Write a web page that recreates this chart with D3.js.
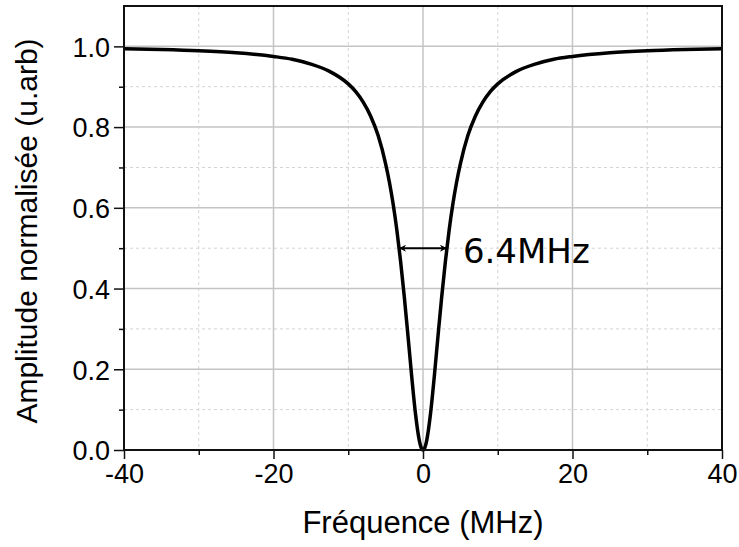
<!DOCTYPE html>
<html>
<head>
<meta charset="utf-8">
<script src="https://cdn.jsdelivr.net/npm/d3@7"></script>
<style>
  body { margin: 0; background: #fff; }
  svg { display: block; }
</style>
</head>
<body>
<div id="chart"></div>
<script>
// Frequency (MHz) and normalised amplitude
const freq = [-40, -35, -30, -25, -20, -17.5, -15, -12.5, -10, -9, -8, -7, -6, -5, -4.5, -4, -3.5, -3, -2.5, -2, -1.5, -1, -0.5, -0.25, 0,
              0.25, 0.5, 1, 1.5, 2, 2.5, 3, 3.5, 4, 4.5, 5, 6, 7, 8, 9, 10, 12.5, 15, 17.5, 20, 25, 30, 35, 40];
const amplitude = [0.994, 0.992, 0.989, 0.984, 0.975, 0.968, 0.956, 0.938, 0.907, 0.888, 0.862, 0.827, 0.779, 0.709, 0.664, 0.610, 0.545, 0.468, 0.379, 0.281, 0.180, 0.089, 0.024, 0.006, 0.000,
                   0.006, 0.024, 0.089, 0.180, 0.281, 0.379, 0.468, 0.545, 0.610, 0.664, 0.709, 0.779, 0.827, 0.862, 0.888, 0.907, 0.938, 0.956, 0.968, 0.975, 0.984, 0.989, 0.992, 0.994];
const xTicks = [-40, -20, 0, 20, 40];
const xTickLabels = ["-40", "-20", "0", "20", "40"];
const xMinorTicks = [-30, -10, 10, 30];
const yTicks = [0.0, 0.2, 0.4, 0.6, 0.8, 1.0];
const yTickLabels = ["0.0", "0.2", "0.4", "0.6", "0.8", "1.0"];
const yMinorTicks = [0.1, 0.3, 0.5, 0.7, 0.9];
const fwhmRange = [-3.2, 3.2];
const fwhmLevel = 0.5;
const fwhmLabel = "6.4MHz";
const xTitle = "Fréquence (MHz)";
const yTitle = "Amplitude normalisée (u.arb)";

const W = 739, H = 547;
const m = { left: 124, right: 17, top: 6, bottom: 97 };
const iw = W - m.left - m.right, ih = H - m.top - m.bottom;

const svg = d3.select("#chart").append("svg").attr("width", W).attr("height", H);
const g = svg.append("g").attr("transform", `translate(${m.left},${m.top})`);

const x = d3.scaleLinear().domain([-40, 40]).range([0, iw]);
const y = d3.scaleLinear().domain([0, 1.1]).range([ih, 0]);

// minor grid (dashed)
g.append("g").selectAll("line").data(xMinorTicks).join("line")
  .attr("x1", d => x(d)).attr("x2", d => x(d)).attr("y1", 0).attr("y2", ih)
  .attr("stroke", "#d4d4d4").attr("stroke-width", 1).attr("stroke-dasharray", "3,3");
g.append("g").selectAll("line").data(yMinorTicks).join("line")
  .attr("y1", d => y(d)).attr("y2", d => y(d)).attr("x1", 0).attr("x2", iw)
  .attr("stroke", "#d4d4d4").attr("stroke-width", 1).attr("stroke-dasharray", "3,3");
// major grid
g.append("g").selectAll("line").data(xTicks.slice(1, -1)).join("line")
  .attr("x1", d => x(d)).attr("x2", d => x(d)).attr("y1", 0).attr("y2", ih)
  .attr("stroke", "#c4c4c4").attr("stroke-width", 1.5);
g.append("g").selectAll("line").data(yTicks.slice(1)).join("line")
  .attr("y1", d => y(d)).attr("y2", d => y(d)).attr("x1", 0).attr("x2", iw)
  .attr("stroke", "#c4c4c4").attr("stroke-width", 1.5);

// curve
const line = d3.line().x((d, i) => x(freq[i])).y(d => y(d)).curve(d3.curveMonotoneX);
g.append("path").datum(amplitude).attr("d", line)
  .attr("fill", "none").attr("stroke", "#000").attr("stroke-width", 3.5).attr("stroke-linejoin", "round");

// frame
g.append("rect").attr("x", 0).attr("y", 0).attr("width", iw).attr("height", ih)
  .attr("fill", "none").attr("stroke", "#111").attr("stroke-width", 2);

// axes
const xAxis = g.append("g").attr("transform", `translate(0,${ih})`)
  .call(d3.axisBottom(x).tickValues(xTicks).tickFormat((d, i) => xTickLabels[i]).tickSize(9).tickPadding(5));
const xMinor = g.append("g").attr("transform", `translate(0,${ih})`)
  .call(d3.axisBottom(x).tickValues(xMinorTicks).tickFormat("").tickSize(5));
const yAxis = g.append("g")
  .call(d3.axisLeft(y).tickValues(yTicks).tickFormat((d, i) => yTickLabels[i]).tickSize(10).tickPadding(4));
const yMinor = g.append("g")
  .call(d3.axisLeft(y).tickValues(yMinorTicks).tickFormat("").tickSize(5));
[xAxis, xMinor, yAxis, yMinor].forEach(a => {
  a.select(".domain").remove();
  a.selectAll(".tick line").attr("stroke", "#111").attr("stroke-width", 1.5);
  a.selectAll("text").attr("fill", "#000")
    .style("font-family", "'Liberation Sans', Arial, sans-serif").style("font-size", "27px");
});
xAxis.selectAll("text").attr("dy", "0.71em");
yAxis.selectAll("text").attr("dy", "0.36em");

// FWHM annotation
const defs = svg.append("defs");
["start", "end"].forEach(k => {
  defs.append("marker").attr("id", "arr-" + k)
    .attr("viewBox", "0 0 10 10").attr("refX", k === "end" ? 10 : 0).attr("refY", 5)
    .attr("markerWidth", 10).attr("markerHeight", 7).attr("markerUnits", "userSpaceOnUse")
    .attr("orient", "auto")
    .append("path")
    .attr("d", k === "end" ? "M0,0 L10,5 L0,10 L3,5 Z" : "M10,0 L0,5 L10,10 L7,5 Z")
    .attr("fill", "#000");
});
g.append("line")
  .attr("x1", x(fwhmRange[0])).attr("x2", x(fwhmRange[1]))
  .attr("y1", y(fwhmLevel)).attr("y2", y(fwhmLevel))
  .attr("stroke", "#000").attr("stroke-width", 2)
  .attr("marker-start", "url(#arr-start)").attr("marker-end", "url(#arr-end)");
g.append("text")
  .attr("x", x(fwhmRange[1]) + 16).attr("y", y(fwhmLevel) + 15)
  .style("font-family", "'DejaVu Sans', sans-serif").style("font-size", "34px")
  .attr("fill", "#000").text(fwhmLabel);

// titles
svg.append("text")
  .attr("x", m.left + iw / 2).attr("y", 533).attr("text-anchor", "middle")
  .style("font-family", "'Liberation Sans', Arial, sans-serif").style("font-size", "31px")
  .attr("fill", "#000").text(xTitle);
svg.append("text")
  .attr("transform", `translate(37,${m.top + ih / 2 + 3}) rotate(-90)`).attr("text-anchor", "middle")
  .style("font-family", "'Liberation Sans', Arial, sans-serif").style("font-size", "30px")
  .attr("fill", "#000").text(yTitle);
</script>
</body>
</html>
